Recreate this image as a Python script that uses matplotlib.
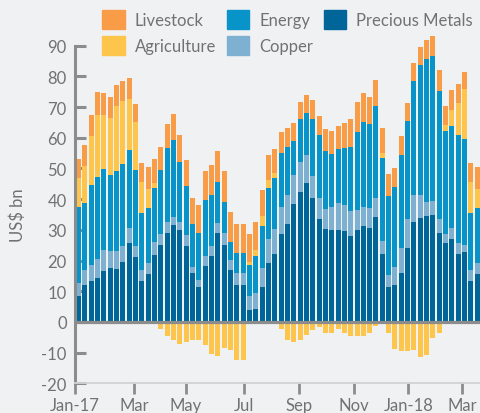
import matplotlib
matplotlib.use("Agg")
import matplotlib.pyplot as plt
from matplotlib.patches import Patch
import numpy as np

# ---- data (US$ bn), weekly, Jan-2017 .. Mar-2018 ----
precious = [8.5, 11.9, 13.2, 14.2, 16.5, 17.5, 17.2, 19.4, 25.6, 21.1,
            13.2, 15.5, 21.7, 25.0, 28.9, 31.5, 29.9, 24.6, 15.9, 11.3,
            18.1, 21.4, 28.9, 25.0, 16.8, 11.9, 11.9, 3.9, 4.1, 11.3,
            19.1, 22.0, 28.6, 31.8, 38.3, 42.2, 45.2, 40.3, 33.4, 30.2,
            29.9, 29.9, 29.5, 27.9, 29.9, 31.2, 30.5, 34.1, 22.0, 11.3,
            11.9, 15.9, 24.0, 32.5, 33.8, 34.4, 34.7, 28.9, 25.6, 26.9,
            22.0, 22.7, 13.2, 15.5]
copper = [4.3, 5.0, 5.3, 6.2, 6.8, 5.5, 5.8, 5.2, 4.9, 3.5,
          3.7, 3.6, 4.3, 3.6, 3.6, 2.6, 2.6, 3.6, 1.9, 2.3,
          3.3, 3.2, 3.2, 3.9, 3.3, 4.0, 4.0, 4.5, 5.2, 6.2,
          7.8, 8.2, 8.8, 9.5, 9.5, 9.8, 9.1, 7.1, 6.9, 6.5,
          7.5, 8.8, 8.5, 8.1, 6.5, 6.2, 6.5, 6.2, 4.3, 3.9,
          5.9, 8.1, 9.4, 8.8, 7.5, 4.6, 4.6, 4.5, 3.0, 3.6,
          3.6, 2.3, 3.6, 3.6]
energy = [24.7, 21.9, 26.0, 26.7, 26.4, 24.8, 26.1, 26.8, 25.4, 24.8,
          18.6, 17.9, 17.5, 20.8, 24.1, 25.1, 19.5, 16.0, 14.0, 15.3,
          18.2, 16.7, 13.4, 10.1, 5.9, 6.5, 6.5, 10.1, 12.1, 13.7,
          16.6, 16.6, 17.5, 15.6, 11.0, 14.0, 13.7, 18.6, 20.5, 18.9,
          17.2, 17.8, 18.6, 20.9, 25.4, 27.6, 27.4, 29.9, 27.0, 25.7,
          26.1, 30.3, 32.0, 37.1, 42.3, 46.6, 47.3, 41.7, 33.5, 33.2,
          35.2, 34.5, 18.6, 17.9]
agriculture = [9.3, 12.0, 16.0, 20.4, 17.6, 18.5, 21.1, 20.5, 16.6, 15.6,
               10.0, 6.2, 1.7, -2.2, -4.7, -5.8, -7.1, -6.5, -5.8, -6.0,
               -7.6, -10.5, -11.0, -8.4, -9.0, -12.3, -12.3, 1.0, 1.9, 3.2,
               2.6, 1.6, -2.2, -5.8, -6.7, -5.8, -4.4, -2.5, -1.5, -3.5,
               -3.7, -2.4, -3.7, -4.7, -4.7, -4.7, -3.7, -1.4, 1.6, -3.7,
               -8.7, -9.6, -9.4, -9.0, -11.3, -10.7, -5.4, -3.7, 2.0, 5.2,
               10.4, 16.3, 10.1, 6.2]
livestock = [6.2, 6.7, 6.8, 7.4, 7.2, 6.9, 6.9, 6.5, 6.9, 5.9,
             6.2, 7.2, 7.8, 7.5, 7.8, 8.4, 8.8, 8.5, 8.5, 9.1,
             9.5, 9.7, 10.1, 10.1, 9.7, 9.4, 9.4, 9.3, 9.2, 8.5,
             8.2, 7.8, 6.9, 6.2, 5.9, 5.6, 5.8, 6.2, 6.2, 7.2,
             7.5, 7.2, 8.1, 9.1, 9.8, 9.5, 8.8, 8.5, 8.2, 7.2,
             6.2, 6.2, 5.8, 5.9, 5.9, 6.1, 6.5, 6.9, 6.1, 6.6,
             6.2, 5.5, 6.2, 7.2]
tick_labels = ["Jan-17", "Mar", "May", "Jul", "Sep", "Nov", "Jan-18", "Mar"]
tick_pos = [-0.55, 8.77, 16.98, 26.15, 34.8, 43.5, 52.1, 60.6]
yticks = [-20, -10, 0, 10, 20, 30, 40, 50, 60, 70, 80, 90]

# ---- style ----
BG = "#F0F1F3"
C_LIVE = "#F89C47"
C_AGRI = "#FDC54B"
C_ENER = "#0994C9"
C_COPP = "#7EB0D1"
C_PREC = "#006699"
AXC = "#8C8C8C"
TXT = "#727272"
FONT = ["Lato", "DejaVu Sans"]
plt.rcParams["font.family"] = FONT

fig = plt.figure(figsize=(4.8, 4.14), dpi=100, facecolor=BG)
ax = fig.add_axes([75 / 480, (414 - 384.3) / 414, 405 / 480, (384.3 - 25.2) / 414])
ax.set_facecolor(BG)

x = np.arange(len(precious))
pm = np.array(precious)
cu = np.array(copper)
en = np.array(energy)
ag = np.array(agriculture)
li = np.array(livestock)
w = 0.79

b1 = pm
b2 = b1 + cu
b3 = b2 + en
ag_pos = np.where(ag > 0, ag, 0)
ag_neg = np.where(ag < 0, ag, 0)
b4 = b3 + ag_pos

ax.bar(x, pm, w, color=C_PREC, zorder=2)
ax.bar(x, cu, w, bottom=b1, color=C_COPP, zorder=2)
ax.bar(x, en, w, bottom=b2, color=C_ENER, zorder=2)
ax.bar(x, ag_pos, w, bottom=b3, color=C_AGRI, zorder=2)
ax.bar(x, ag_neg, w, bottom=0, color=C_AGRI, zorder=2)
ax.bar(x, li, w, bottom=b4, color=C_LIVE, zorder=2)

ax.axhline(0, color=AXC, lw=2.3, zorder=3)

ax.set_xlim(-0.55, 63.43)
ax.set_ylim(-20, 97)

for s in ["top", "right"]:
    ax.spines[s].set_visible(False)
ax.spines["left"].set_bounds(-20, 90)
ax.spines["left"].set_color(AXC)
ax.spines["left"].set_linewidth(2.2)
ax.spines["bottom"].set_color("#D2D3D5")
ax.spines["bottom"].set_linewidth(1.3)

ax.set_yticks(yticks)
ax.set_yticklabels([str(v) for v in yticks])
ax.tick_params(axis="y", direction="in", length=8, width=2.2, color=AXC,
               labelcolor=TXT, labelsize=12, pad=6)
ax.set_xticks(tick_pos)
ax.set_xticklabels(tick_labels)
ax.tick_params(axis="x", direction="out", length=8, width=2.0, color=AXC,
               labelcolor=TXT, labelsize=12, pad=2)

fig.text(18 / 480, 1 - 215 / 414, "US$ bn", rotation=90, ha="center",
         va="center", color=TXT, fontsize=12)

handles = [Patch(color=C_LIVE), Patch(color=C_AGRI), Patch(color=C_ENER),
           Patch(color=C_COPP), Patch(color=C_PREC)]
labels = ["Livestock", "Agriculture", "Energy", "Copper", "Precious Metals"]
leg = fig.legend(handles, labels, ncol=3, loc="upper left",
                 bbox_to_anchor=(102 / 480, 1 - 11 / 414), frameon=False,
                 fontsize=12, handlelength=1.35, handleheight=1.4,
                 handletextpad=0.62, columnspacing=0.62, labelspacing=0.38,
                 borderpad=0, borderaxespad=0)
for t in leg.get_texts():
    t.set_color(TXT)

fig.savefig("out.png", dpi=100, facecolor=BG)
